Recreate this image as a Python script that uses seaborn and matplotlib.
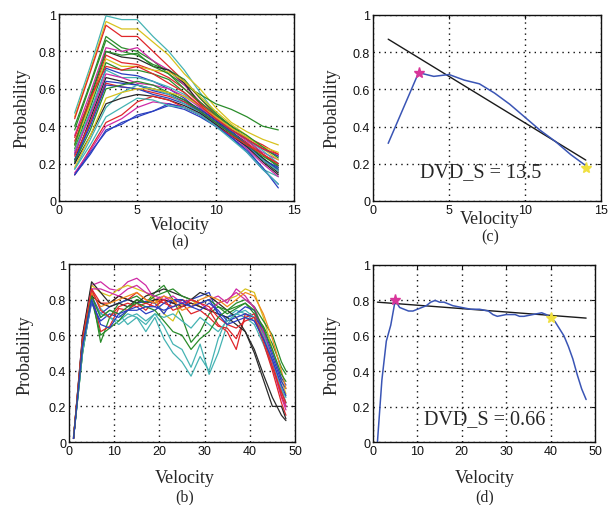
import numpy as np
import pandas as pd
import matplotlib
matplotlib.use("Agg")
import matplotlib.pyplot as plt
import seaborn as sns

# ---------------- data ----------------
a_x = list(range(1, 15))
a_lines = [
    [0.47, 0.72, 0.99, 0.97, 0.97, 0.88, 0.80, 0.70, 0.58, 0.47, 0.38, 0.28, 0.17, 0.13],
    [0.45, 0.70, 0.96, 0.92, 0.92, 0.85, 0.78, 0.68, 0.60, 0.50, 0.42, 0.37, 0.33, 0.30],
    [0.44, 0.69, 0.94, 0.88, 0.88, 0.80, 0.72, 0.64, 0.55, 0.46, 0.40, 0.33, 0.25, 0.20],
    [0.40, 0.63, 0.88, 0.82, 0.80, 0.75, 0.68, 0.62, 0.57, 0.52, 0.49, 0.45, 0.40, 0.38],
    [0.38, 0.62, 0.86, 0.80, 0.78, 0.73, 0.70, 0.65, 0.55, 0.47, 0.40, 0.33, 0.25, 0.18],
    [0.35, 0.58, 0.82, 0.80, 0.82, 0.75, 0.70, 0.62, 0.53, 0.45, 0.38, 0.32, 0.26, 0.22],
    [0.30, 0.55, 0.80, 0.77, 0.76, 0.72, 0.70, 0.63, 0.52, 0.44, 0.37, 0.31, 0.22, 0.15],
    [0.32, 0.53, 0.78, 0.74, 0.73, 0.70, 0.66, 0.60, 0.52, 0.45, 0.39, 0.34, 0.30, 0.25],
    [0.30, 0.52, 0.76, 0.72, 0.72, 0.70, 0.69, 0.64, 0.56, 0.48, 0.41, 0.35, 0.28, 0.22],
    [0.28, 0.50, 0.74, 0.70, 0.70, 0.68, 0.65, 0.58, 0.50, 0.43, 0.37, 0.30, 0.23, 0.17],
    [0.25, 0.47, 0.71, 0.68, 0.67, 0.64, 0.60, 0.55, 0.48, 0.41, 0.35, 0.29, 0.22, 0.18],
    [0.27, 0.48, 0.70, 0.66, 0.66, 0.64, 0.61, 0.57, 0.50, 0.44, 0.38, 0.33, 0.27, 0.20],
    [0.26, 0.46, 0.68, 0.66, 0.63, 0.62, 0.60, 0.56, 0.50, 0.44, 0.38, 0.33, 0.28, 0.24],
    [0.22, 0.44, 0.66, 0.64, 0.62, 0.60, 0.58, 0.54, 0.49, 0.43, 0.36, 0.30, 0.23, 0.16],
    [0.20, 0.42, 0.64, 0.63, 0.62, 0.59, 0.57, 0.53, 0.49, 0.43, 0.38, 0.33, 0.28, 0.24],
    [0.24, 0.42, 0.63, 0.61, 0.60, 0.58, 0.56, 0.53, 0.48, 0.42, 0.36, 0.31, 0.25, 0.19],
    [0.22, 0.40, 0.62, 0.61, 0.60, 0.57, 0.55, 0.52, 0.48, 0.42, 0.37, 0.30, 0.22, 0.17],
    [0.21, 0.38, 0.60, 0.62, 0.64, 0.62, 0.58, 0.54, 0.48, 0.42, 0.36, 0.30, 0.24, 0.19],
    [0.17, 0.33, 0.50, 0.58, 0.62, 0.60, 0.57, 0.52, 0.47, 0.41, 0.35, 0.29, 0.22, 0.16],
    [0.20, 0.35, 0.52, 0.55, 0.57, 0.56, 0.54, 0.51, 0.47, 0.41, 0.35, 0.29, 0.21, 0.14],
    [0.14, 0.28, 0.42, 0.46, 0.53, 0.56, 0.54, 0.50, 0.46, 0.40, 0.35, 0.30, 0.25, 0.20],
    [0.15, 0.27, 0.40, 0.44, 0.50, 0.53, 0.52, 0.50, 0.46, 0.40, 0.34, 0.28, 0.20, 0.13],
    [0.14, 0.26, 0.37, 0.42, 0.45, 0.48, 0.52, 0.50, 0.46, 0.40, 0.34, 0.26, 0.17, 0.09],
    [0.14, 0.25, 0.38, 0.41, 0.46, 0.48, 0.51, 0.49, 0.45, 0.40, 0.34, 0.27, 0.18, 0.07],
    [0.18, 0.35, 0.55, 0.58, 0.60, 0.60, 0.58, 0.56, 0.51, 0.45, 0.39, 0.34, 0.29, 0.26],
    [0.17, 0.30, 0.45, 0.50, 0.55, 0.54, 0.51, 0.50, 0.46, 0.40, 0.33, 0.26, 0.17, 0.09],
    [0.30, 0.56, 0.80, 0.78, 0.79, 0.72, 0.68, 0.60, 0.53, 0.46, 0.40, 0.35, 0.29, 0.23],
    [0.34, 0.55, 0.72, 0.70, 0.72, 0.68, 0.63, 0.58, 0.51, 0.44, 0.38, 0.33, 0.28, 0.25],
]
a_colors = ["c", "y", "r", "g", "g", "m", "k", "r", "y", "g", "b", "c", "m", "k",
            "b", "r", "b", "g", "c", "k", "r", "m", "b", "b", "y", "c", "g", "r"]

b_x = [1, 3, 5, 7, 9, 11, 13, 15, 17, 19, 21, 23, 25, 27, 29, 31, 33, 35, 37, 39, 41, 43, 45, 47, 48]
b_lines = [
    [0.02, 0.60, 0.88, 0.90, 0.86, 0.85, 0.90, 0.92, 0.88, 0.80, 0.82, 0.78, 0.80, 0.76, 0.78, 0.80, 0.82, 0.78, 0.86, 0.82, 0.75, 0.60, 0.42, 0.25, 0.18],
    [0.02, 0.50, 0.84, 0.56, 0.70, 0.78, 0.80, 0.82, 0.78, 0.84, 0.88, 0.80, 0.70, 0.56, 0.62, 0.72, 0.76, 0.72, 0.75, 0.78, 0.72, 0.65, 0.55, 0.42, 0.38],
    [0.02, 0.52, 0.82, 0.70, 0.74, 0.72, 0.66, 0.70, 0.62, 0.70, 0.58, 0.50, 0.45, 0.37, 0.48, 0.40, 0.58, 0.70, 0.74, 0.72, 0.68, 0.58, 0.45, 0.30, 0.25],
    [0.03, 0.55, 0.85, 0.75, 0.70, 0.68, 0.72, 0.70, 0.66, 0.72, 0.65, 0.55, 0.52, 0.42, 0.55, 0.38, 0.50, 0.66, 0.72, 0.70, 0.66, 0.55, 0.42, 0.28, 0.22],
    [0.02, 0.58, 0.86, 0.78, 0.78, 0.82, 0.80, 0.84, 0.80, 0.78, 0.80, 0.78, 0.80, 0.78, 0.76, 0.74, 0.66, 0.62, 0.52, 0.72, 0.70, 0.56, 0.40, 0.22, 0.15],
    [0.02, 0.55, 0.84, 0.62, 0.65, 0.75, 0.74, 0.78, 0.74, 0.80, 0.78, 0.76, 0.78, 0.72, 0.74, 0.70, 0.65, 0.64, 0.58, 0.70, 0.72, 0.60, 0.45, 0.26, 0.20],
    [0.03, 0.58, 0.88, 0.84, 0.82, 0.86, 0.88, 0.86, 0.84, 0.80, 0.72, 0.68, 0.78, 0.80, 0.76, 0.74, 0.78, 0.80, 0.82, 0.86, 0.84, 0.70, 0.52, 0.35, 0.27],
    [0.02, 0.55, 0.82, 0.72, 0.76, 0.78, 0.80, 0.78, 0.79, 0.78, 0.72, 0.80, 0.78, 0.80, 0.82, 0.84, 0.72, 0.70, 0.72, 0.76, 0.74, 0.62, 0.48, 0.34, 0.30],
    [0.02, 0.60, 0.90, 0.84, 0.78, 0.82, 0.80, 0.78, 0.82, 0.84, 0.86, 0.84, 0.82, 0.80, 0.84, 0.82, 0.78, 0.74, 0.70, 0.62, 0.50, 0.35, 0.20, 0.20, 0.13],
    [0.02, 0.55, 0.82, 0.78, 0.76, 0.78, 0.76, 0.80, 0.78, 0.80, 0.80, 0.78, 0.76, 0.78, 0.76, 0.74, 0.72, 0.70, 0.66, 0.62, 0.52, 0.38, 0.25, 0.15, 0.12],
    [0.03, 0.50, 0.80, 0.60, 0.64, 0.68, 0.74, 0.80, 0.78, 0.82, 0.84, 0.86, 0.82, 0.80, 0.78, 0.80, 0.76, 0.74, 0.78, 0.80, 0.76, 0.68, 0.60, 0.45, 0.40],
    [0.02, 0.56, 0.86, 0.86, 0.84, 0.82, 0.86, 0.88, 0.84, 0.82, 0.80, 0.82, 0.78, 0.80, 0.78, 0.74, 0.78, 0.80, 0.84, 0.80, 0.76, 0.62, 0.46, 0.30, 0.20],
    [0.02, 0.52, 0.78, 0.68, 0.72, 0.70, 0.74, 0.76, 0.72, 0.74, 0.78, 0.80, 0.80, 0.76, 0.74, 0.78, 0.74, 0.68, 0.70, 0.72, 0.70, 0.64, 0.50, 0.36, 0.32],
    [0.02, 0.50, 0.80, 0.72, 0.70, 0.66, 0.70, 0.72, 0.68, 0.72, 0.70, 0.72, 0.68, 0.64, 0.70, 0.66, 0.62, 0.68, 0.72, 0.74, 0.70, 0.60, 0.46, 0.30, 0.22],
    [0.03, 0.56, 0.84, 0.76, 0.78, 0.80, 0.82, 0.84, 0.80, 0.78, 0.82, 0.80, 0.74, 0.76, 0.80, 0.82, 0.80, 0.76, 0.80, 0.84, 0.82, 0.72, 0.58, 0.40, 0.30],
    [0.02, 0.58, 0.86, 0.74, 0.70, 0.76, 0.78, 0.76, 0.78, 0.76, 0.80, 0.74, 0.76, 0.80, 0.78, 0.76, 0.70, 0.66, 0.64, 0.68, 0.70, 0.58, 0.42, 0.28, 0.22],
    [0.02, 0.54, 0.82, 0.70, 0.74, 0.72, 0.76, 0.78, 0.76, 0.74, 0.68, 0.62, 0.60, 0.52, 0.58, 0.62, 0.70, 0.74, 0.76, 0.78, 0.74, 0.64, 0.52, 0.38, 0.34],
    [0.02, 0.54, 0.80, 0.66, 0.64, 0.72, 0.74, 0.74, 0.76, 0.76, 0.74, 0.76, 0.78, 0.76, 0.78, 0.80, 0.72, 0.66, 0.68, 0.70, 0.68, 0.58, 0.46, 0.32, 0.26],
]
b_colors = ["m", "g", "c", "c", "r", "r", "y", "b", "k", "k", "g", "m", "b", "c", "orange", "r", "g", "b"]

c_x = list(range(1, 15))
c_y = [0.31, 0.50, 0.69, 0.67, 0.68, 0.65, 0.63, 0.58, 0.52, 0.45, 0.38, 0.32, 0.25, 0.19]
c_fit_x = [1, 14]
c_fit_y = [0.87, 0.22]
c_peak = (3, 0.69)
c_end = (14, 0.18)
c_text = "DVD_S = 13.5"

d_x = [1, 2, 3, 4, 5, 6, 7, 8, 9, 10, 11, 12, 13, 14, 15, 16, 18, 20, 22, 24, 26, 27, 28, 30,
       32, 33, 34, 36, 38, 39, 40, 41, 42, 43, 44, 45, 46, 47, 48]
d_y = [0.0, 0.35, 0.57, 0.66, 0.80, 0.76, 0.75, 0.74, 0.74, 0.75, 0.76, 0.77, 0.79, 0.80, 0.79,
       0.79, 0.77, 0.76, 0.75, 0.75, 0.74, 0.72, 0.71, 0.72, 0.72, 0.71, 0.71, 0.72, 0.73, 0.72,
       0.70, 0.68, 0.64, 0.60, 0.54, 0.47, 0.38, 0.30, 0.24]
d_fit_x = [1, 48]
d_fit_y = [0.79, 0.70]
d_peak = (5, 0.80)
d_end = (40, 0.70)
d_text = "DVD_S = 0.66"

# ---------------- style ----------------
sns.set_style("white")
plt.rcParams["font.family"] = ["Liberation Sans", "DejaVu Sans"]
SERIF = ["Liberation Serif", "DejaVu Serif"]

cmap = {"b": "#2a3fc0", "g": "#2a8c2a", "r": "#e0262a", "c": "#45b3b3",
        "m": "#cf2aa5", "y": "#d8c21e", "k": "#2a2a2a", "orange": "#f08a1c"}

W, H = 611, 506
fig = plt.figure(figsize=(W / 100, H / 100), dpi=100)


def px_axes(l, t, r, b):
    return fig.add_axes([l / W, 1 - b / H, (r - l) / W, (b - t) / H])


ax_a = px_axes(59, 15, 294, 202)
ax_c = px_axes(373, 16, 601, 202)
ax_b = px_axes(69, 265, 295, 443)
ax_d = px_axes(373, 266, 595, 443)


def many_lines(ax, xs, lines, colors):
    rows = []
    for i, ys in enumerate(lines):
        for x, y in zip(xs, ys):
            rows.append({"x": x, "y": y, "line": f"L{i}"})
    df = pd.DataFrame(rows)
    pal = {f"L{i}": cmap[c] for i, c in enumerate(colors)}
    sns.lineplot(data=df, x="x", y="y", hue="line", palette=pal, estimator=None,
                 legend=False, linewidth=0.9, ax=ax, sort=False)


many_lines(ax_a, a_x, a_lines, a_colors)
many_lines(ax_b, b_x, b_lines, b_colors)

for ax, xs, ys, fx, fy, pk, en in [
    (ax_c, c_x, c_y, c_fit_x, c_fit_y, c_peak, c_end),
    (ax_d, d_x, d_y, d_fit_x, d_fit_y, d_peak, d_end),
]:
    sns.lineplot(x=fx, y=fy, color="#1a1a1a", linewidth=1.0, ax=ax)
    sns.lineplot(x=xs, y=ys, color="#3a55b5", linewidth=1.1, ax=ax, estimator=None)
    ax.plot([pk[0]], [pk[1]], marker="*", color="#d8359a", markersize=8, linestyle="none")
    ax.plot([en[0]], [en[1]], marker="*", color="#f0e040", markersize=8, linestyle="none")

ax_c.text(7.1, 0.16, c_text, family=SERIF, fontsize=14.5, ha="center", va="center")
ax_d.text(25.2, 0.13, d_text, family=SERIF, fontsize=14.5, ha="center", va="center")

for ax, xmax, xt in [(ax_a, 15, [0, 5, 10, 15]), (ax_c, 15, [0, 5, 10, 15]),
                     (ax_b, 50, [0, 10, 20, 30, 40, 50]), (ax_d, 50, [0, 10, 20, 30, 40, 50])]:
    ax.set_xlim(0, xmax)
    ax.set_ylim(0, 1)
    ax.set_xticks(xt)
    ax.set_yticks([0, 0.2, 0.4, 0.6, 0.8, 1])
    ax.set_yticklabels(["0", "0.2", "0.4", "0.6", "0.8", "1"])
    ax.set_xticklabels([str(v) for v in xt])
    ax.set_xlabel("")
    ax.set_ylabel("")
    ax.tick_params(direction="in", length=3, width=0.8, labelsize=9, pad=2,
                   top=True, right=True, colors="#111111")
    ax.grid(True, color="#111111", linestyle=(0, (1, 3)), linewidth=1.0)
    for s in ax.spines.values():
        s.set_color("#111111")
        s.set_linewidth(1.0)
        s.set_visible(True)

# axis labels and panel captions (pixel positions)
labels = [
    # (x_center, y_velocity, y_caption, x_prob, y_prob, caption)
    (180, 226, 242, 22, 108, "(a)"),
    (490, 220, 237, 332, 108, "(c)"),
    (185, 479, 497, 25, 355, "(b)"),
    (485, 479, 497, 332, 355, "(d)"),
]
for xc, yv, ycap, xp, yp, cap in labels:
    fig.text(xc / W, 1 - yv / H, "Velocity", family=SERIF, fontsize=13, ha="center", va="center")
    fig.text(xc / W, 1 - ycap / H, cap, family=SERIF, fontsize=11.5, ha="center", va="center")
    fig.text(xp / W, 1 - yp / H, "Probability", family=SERIF, fontsize=13, ha="center",
             va="center", rotation=90)

fig.savefig("out.png", dpi=100, facecolor="white")
